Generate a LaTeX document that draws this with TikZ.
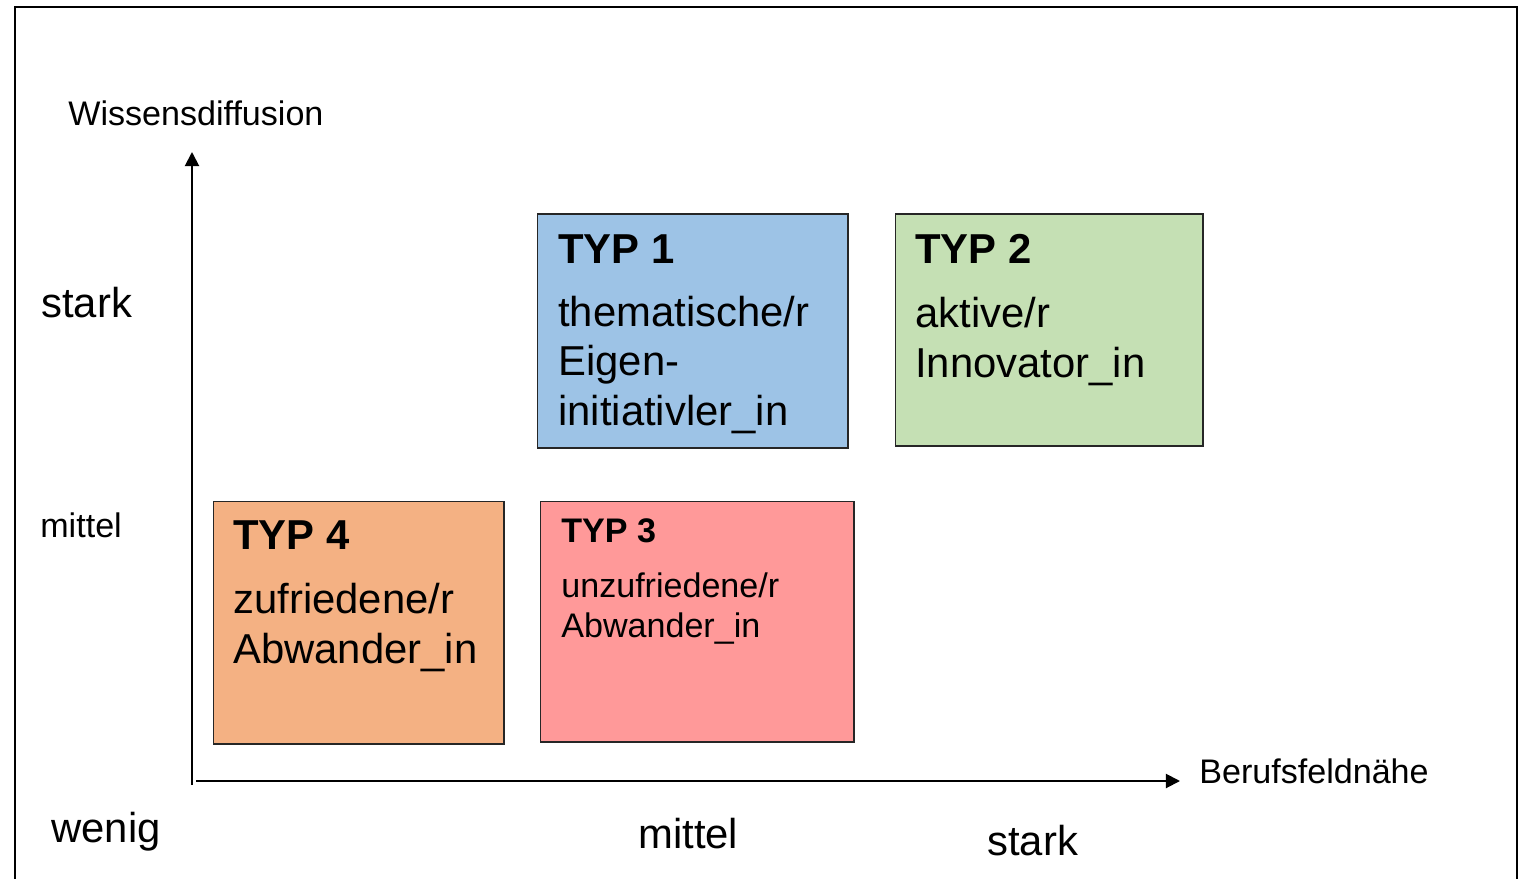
\documentclass[tikz,border=0pt]{standalone}
\usepackage{fontspec}
\setmainfont{Liberation Sans}
\usetikzlibrary{arrows.meta}

\definecolor{typone}{HTML}{9DC3E6}
\definecolor{typtwo}{HTML}{C5E0B4}
\definecolor{typthree}{HTML}{FF9999}
\definecolor{typfour}{HTML}{F4B183}

\begin{document}
\begin{tikzpicture}[x=0.02cm,y=-0.02cm]
    \tikzstyle{typbox}=[draw=black!85,line width=0.6pt,rectangle,inner sep=0pt]
    \tikzstyle{smalltxt}=[anchor=base west,inner sep=0pt,align=left,font=\fontsize{19.4}{22.7}\selectfont]
    \tikzstyle{bigtxt}=[anchor=base west,inner sep=0pt,align=left,font=\fontsize{23.8}{28}\selectfont]
    \tikzstyle{axis}=[line width=1.1pt,-{Triangle[length=8pt,width=8pt]}]

    \useasboundingbox (0,0) rectangle (1522,879);
    % outer frame, open at the bottom
    \draw[line width=1.5pt] (15,879) -- (15,7) -- (1517,7) -- (1517,879);

    % axes
    \coordinate (origin-v) at (192,785);
    \coordinate (top-v) at (192,152);
    \coordinate (origin-h) at (196,781);
    \coordinate (end-h) at (1180,781);
    \draw[axis] (origin-v) -- (top-v);
    \draw[axis] (origin-h) -- (end-h);

    % axis names
    \node[smalltxt] (ylabel) at (68,125) {Wissensdiffusion};
    \node[smalltxt] (xlabel) at (1199,783) {Berufsfeldnähe};

    % scale on the vertical axis
    \node[bigtxt] (ystark) at (41,317) {stark};
    \node[smalltxt] (ymittel) at (40,537) {mittel};
    \node[bigtxt] (wenig) at (51,842) {wenig};
    % scale on the horizontal axis
    \node[bigtxt] (xmittel) at (638,848) {mittel};
    \node[bigtxt] (xstark) at (987,855) {stark};

    % the four types
    \node[typbox,fill=typone,minimum width=6.22cm,minimum height=4.68cm] (typ1) at (692.5,331) {};
    \node[typbox,fill=typtwo,minimum width=6.16cm,minimum height=4.64cm] (typ2) at (1049,330) {};
    \node[typbox,fill=typthree,minimum width=6.28cm,minimum height=4.82cm] (typ3) at (697,621.5) {};
    \node[typbox,fill=typfour,minimum width=5.82cm,minimum height=4.86cm] (typ4) at (358.5,622.5) {};

    % texts of the types (body nodes sit on the baseline of their last line)
    \node[bigtxt,font=\fontsize{23.8}{28}\selectfont\bfseries] (typ1-head) at (558,263) {TYP 1};
    \node[bigtxt] (typ1-text) at (558,425) {thematische/r\\Eigen-\\initiativler\_in};
    \node[bigtxt,font=\fontsize{23.8}{28}\selectfont\bfseries] (typ2-head) at (915,263) {TYP 2};
    \node[bigtxt] (typ2-text) at (915,377) {aktive/r\\Innovator\_in};
    \node[smalltxt,font=\fontsize{19.4}{22.7}\selectfont\bfseries] (typ3-head) at (561,542) {TYP 3};
    \node[smalltxt] (typ3-text) at (561,637) {unzufriedene/r\\Abwander\_in};
    \node[bigtxt,font=\fontsize{23.8}{28}\selectfont\bfseries] (typ4-head) at (233,549) {TYP 4};
    \node[bigtxt] (typ4-text) at (233,663) {zufriedene/r\\Abwander\_in};
\end{tikzpicture}
\end{document}
